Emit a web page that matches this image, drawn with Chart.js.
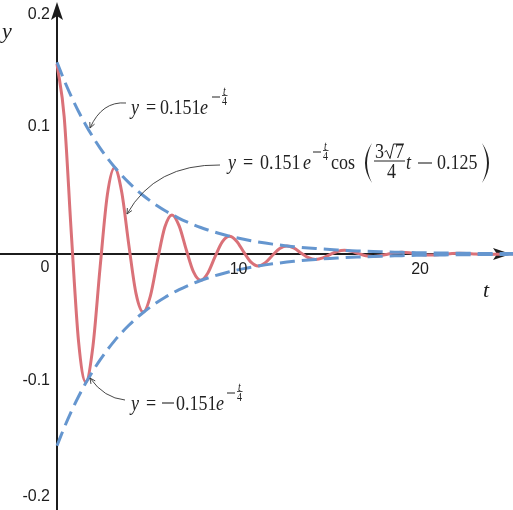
<!DOCTYPE html>
<html>
<head>
<meta charset="utf-8">
<style>
html, body { margin: 0; padding: 0; background: #fff; }
#contenedor { width: 513px; height: 510px; }
</style>
</head>
<body>
<div id="contenedor"><canvas id="canvas-grafico" width="513" height="510"></canvas></div>
<script src="https://cdn.jsdelivr.net/npm/chart.js@4/dist/chart.umd.min.js"></script>
<script>
// Muestras en t (cada 1/8 de periodo)
const tiempos = [
    0, 0.396, 0.792, 1.187, 1.583, 1.979, 2.375, 2.771,
    3.166, 3.562, 3.958, 4.354, 4.750, 5.146, 5.541, 5.937,
    6.333, 6.729, 7.125, 7.520, 7.916, 8.312, 8.708, 9.104,
    9.499, 9.895, 10.291, 10.687, 11.083, 11.478, 11.874, 12.270,
    12.666, 13.062, 13.457, 13.853, 14.249, 14.645, 15.041, 15.437,
    15.832, 16.228, 16.624, 17.020, 17.416, 17.811, 18.207, 18.603,
    18.999, 19.395, 19.791, 20.186, 20.582, 20.978, 21.374, 21.770,
    22.165, 22.561, 22.957, 23.353, 23.749, 24.145, 24.540, 24.936,
    25.332
];

// Curva amortiguada (roja)
const curva = [
    0.14982, 0.10802, 0.01545, -0.06884, -0.10086, -0.07271, -0.01040, 0.04634,
    0.06790, 0.04895, 0.00700, -0.03119, -0.04570, -0.03295, -0.00471, 0.02100,
    0.03077, 0.02218, 0.00317, -0.01413, -0.02071, -0.01493, -0.00213, 0.00951,
    0.01394, 0.01005, 0.00144, -0.00640, -0.00939, -0.00677, -0.00097, 0.00431,
    0.00632, 0.00455, 0.00065, -0.00290, -0.00425, -0.00307, -0.00044, 0.00195,
    0.00286, 0.00206, 0.00030, -0.00132, -0.00193, -0.00139, -0.00020, 0.00089,
    0.00130, 0.00094, 0.00013, -0.00060, -0.00087, -0.00063, -0.00009, 0.00040,
    0.00059, 0.00042, 0.00006, -0.00027, -0.00040, -0.00029, -0.00004, 0.00018,
    0.00027
];

// Envolventes (azul discontinuo)
const envolventeSup = [
    0.15100, 0.13677, 0.12389, 0.11222, 0.10165, 0.09207, 0.08340, 0.07554,
    0.06843, 0.06198, 0.05614, 0.05085, 0.04606, 0.04172, 0.03779, 0.03423,
    0.03101, 0.02809, 0.02544, 0.02304, 0.02087, 0.01891, 0.01712, 0.01551,
    0.01405, 0.01273, 0.01153, 0.01044, 0.00946, 0.00857, 0.00776, 0.00703,
    0.00637, 0.00577, 0.00522, 0.00473, 0.00429, 0.00388, 0.00352, 0.00319,
    0.00289, 0.00261, 0.00237, 0.00214, 0.00194, 0.00176, 0.00159, 0.00144,
    0.00131, 0.00118, 0.00107, 0.00097, 0.00088, 0.00080, 0.00072, 0.00065,
    0.00059, 0.00054, 0.00049, 0.00044, 0.00040, 0.00036, 0.00033, 0.00030,
    0.00027
];
const envolventeInf = [
    -0.15100, -0.13677, -0.12389, -0.11222, -0.10165, -0.09207, -0.08340, -0.07554,
    -0.06843, -0.06198, -0.05614, -0.05085, -0.04606, -0.04172, -0.03779, -0.03423,
    -0.03101, -0.02809, -0.02544, -0.02304, -0.02087, -0.01891, -0.01712, -0.01551,
    -0.01405, -0.01273, -0.01153, -0.01044, -0.00946, -0.00857, -0.00776, -0.00703,
    -0.00637, -0.00577, -0.00522, -0.00473, -0.00429, -0.00388, -0.00352, -0.00319,
    -0.00289, -0.00261, -0.00237, -0.00214, -0.00194, -0.00176, -0.00159, -0.00144,
    -0.00131, -0.00118, -0.00107, -0.00097, -0.00088, -0.00080, -0.00072, -0.00065,
    -0.00059, -0.00054, -0.00049, -0.00044, -0.00040, -0.00036, -0.00033, -0.00030,
    -0.00027
];

// Ticks
const ticksY = [0.2, 0.1, -0.1, -0.2];
const etiquetasY = ["0.2", "0.1", "-0.1", "-0.2"];
const ticksX = [10, 20];
const etiquetasX = ["10", "20"];

const ROJO = "#da7178";
const AZUL = "#6596cf";
const NEGRO = "#1c1c1c";
const SERIF = "'Liberation Serif', 'Times New Roman', 'DejaVu Serif', serif";
const SANS = "'Liberation Sans', Arial, 'DejaVu Sans', sans-serif";

const puntos = arr => tiempos.map((t, i) => ({ x: t, y: arr[i] }));

// ---- utilidades de dibujo ----
function pieza(ctx, s, x, y, tam, cursiva, centro) {
    ctx.save();
    ctx.translate(x, y);
    ctx.scale(1, 1.2);
    ctx.font = (cursiva ? "italic " : "") + tam + "px " + SERIF;
    ctx.textAlign = centro ? "center" : "left";
    ctx.textBaseline = "alphabetic";
    ctx.fillText(s, 0, 0);
    ctx.restore();
}

function raya(ctx, x1, y1, x2, y2, w) {
    ctx.beginPath();
    ctx.lineWidth = w;
    ctx.moveTo(x1, y1);
    ctx.lineTo(x2, y2);
    ctx.stroke();
}

// exponente  -t/4
function exponente(ctx, xm, yb) {
    raya(ctx, xm, yb - 17, xm + 8, yb - 17, 1);
    pieza(ctx, "t", xm + 12.5, yb - 19, 10, true, true);
    raya(ctx, xm + 10, yb - 18.5, xm + 15.5, yb - 18.5, 0.8);
    pieza(ctx, "4", xm + 12.5, yb - 9.5, 10, false, true);
}

function flecha(ctx, x0, y0, cx, cy, x1, y1) {
    ctx.save();
    ctx.strokeStyle = "#333";
    ctx.lineWidth = 0.9;
    ctx.beginPath();
    ctx.moveTo(x0, y0);
    ctx.quadraticCurveTo(cx, cy, x1, y1);
    ctx.stroke();
    const ang = Math.atan2(y1 - cy, x1 - cx);
    const L = 6;
    ctx.beginPath();
    ctx.moveTo(x1 - L * Math.cos(ang - 0.45), y1 - L * Math.sin(ang - 0.45));
    ctx.lineTo(x1, y1);
    ctx.lineTo(x1 - L * Math.cos(ang + 0.45), y1 - L * Math.sin(ang + 0.45));
    ctx.stroke();
    ctx.restore();
}

function parentesis(ctx, x, yTop, yBot, abre) {
    const ym = (yTop + yBot) / 2;
    const d = abre ? -1 : 1;
    ctx.beginPath();
    ctx.moveTo(x, yTop);
    ctx.quadraticCurveTo(x + d * 14, ym, x, yBot);
    ctx.quadraticCurveTo(x + d * 10, ym, x, yTop);
    ctx.fill();
}

// ---- plugin: ejes, etiquetas y fórmulas ----
const ejes = {
    id: "ejes",
    beforeDatasetsDraw(chart) {
        const ctx = chart.ctx;
        const sx = chart.scales.x, sy = chart.scales.y;
        const x0 = sx.getPixelForValue(0);
        const y0 = sy.getPixelForValue(0);
        ctx.save();
        ctx.strokeStyle = NEGRO;
        ctx.fillStyle = NEGRO;
        // eje x
        raya(ctx, 0, y0, chart.width - 12, y0, 2);
        const xt = chart.width - 2;
        ctx.beginPath();
        ctx.moveTo(xt, y0);
        ctx.lineTo(xt - 18, y0 - 6);
        ctx.lineTo(xt - 14, y0);
        ctx.lineTo(xt - 18, y0 + 6);
        ctx.closePath();
        ctx.fill();
        // eje y
        raya(ctx, x0, chart.height, x0, 12, 2);
        ctx.beginPath();
        ctx.moveTo(x0, 2);
        ctx.lineTo(x0 - 6, 20);
        ctx.lineTo(x0, 16);
        ctx.lineTo(x0 + 6, 20);
        ctx.closePath();
        ctx.fill();
        ctx.restore();
    },
    afterDatasetsDraw(chart) {
        const ctx = chart.ctx;
        const sx = chart.scales.x, sy = chart.scales.y;
        const x0 = sx.getPixelForValue(0);
        const y0 = sy.getPixelForValue(0);
        ctx.save();
        ctx.fillStyle = NEGRO;
        ctx.font = "16px " + SANS;
        ctx.textBaseline = "middle";
        ctx.textAlign = "right";
        ticksY.forEach((v, i) => {
            let py = sy.getPixelForValue(v);
            py = Math.min(Math.max(py, 15), chart.height - 13);
            ctx.fillText(etiquetasY[i], x0 - 7, py);
        });
        ctx.textAlign = "center";
        ticksX.forEach((v, i) => {
            ctx.fillText(etiquetasX[i], sx.getPixelForValue(v), y0 + 16);
        });
        ctx.fillText("0", x0 - 12, y0 + 14);

        // nombres de ejes
        ctx.textBaseline = "alphabetic";
        ctx.textAlign = "left";
        ctx.font = "italic 22px " + SERIF;
        ctx.fillText("y", 2, 38);
        ctx.fillText("t", 483, 297);

        ctx.strokeStyle = "#222";
        ctx.fillStyle = "#222";

        // y = 0.151 e^{-t/4}
        pieza(ctx, "y", 131, 114, 18, true);
        pieza(ctx, "=", 146, 114, 18, false);
        pieza(ctx, "0.151", 160, 114, 18, false);
        pieza(ctx, "e", 200, 114, 18, true);
        exponente(ctx, 212, 114);
        flecha(ctx, 126, 103, 102, 101, 90, 128);

        // y = 0.151 e^{-t/4} cos(3√7/4 t - 0.125)
        pieza(ctx, "y", 228, 169, 18, true);
        pieza(ctx, "=", 243, 169, 18, false);
        pieza(ctx, "0.151", 260, 169, 18, false);
        pieza(ctx, "e", 303, 169, 18, true);
        exponente(ctx, 313, 169);
        pieza(ctx, "cos", 331, 169, 18, false);
        parentesis(ctx, 372, 143, 183, true);
        pieza(ctx, "3", 375, 158, 18, false);
        ctx.beginPath();
        ctx.lineWidth = 1;
        ctx.moveTo(384.5, 152);
        ctx.lineTo(386.5, 150.5);
        ctx.lineTo(390, 158.5);
        ctx.lineTo(393.5, 144);
        ctx.lineTo(404, 144);
        ctx.stroke();
        pieza(ctx, "7", 395, 158, 18, false);
        raya(ctx, 374, 161, 405, 161, 1);
        pieza(ctx, "4", 387, 178, 18, false);
        pieza(ctx, "t", 406, 169, 18, true);
        raya(ctx, 418, 163, 432, 163, 1.1);
        pieza(ctx, "0.125", 437, 169, 18, false);
        parentesis(ctx, 482, 143, 183, false);
        flecha(ctx, 220, 165, 155, 164, 127, 214);

        // y = -0.151 e^{-t/4}
        pieza(ctx, "y", 131, 410, 18, true);
        pieza(ctx, "=", 146, 410, 18, false);
        raya(ctx, 162, 403, 174, 403, 1.1);
        pieza(ctx, "0.151", 176, 410, 18, false);
        pieza(ctx, "e", 216, 410, 18, true);
        exponente(ctx, 227, 410);
        flecha(ctx, 125, 400, 104, 398, 90, 378);

        ctx.restore();
    }
};

function crearGrafico() {
    new Chart(document.getElementById("canvas-grafico").getContext("2d"), {
        type: "line",
        data: {
            datasets: [
                {
                    data: puntos(envolventeSup),
                    borderColor: AZUL,
                    borderWidth: 3,
                    borderDash: [15, 7],
                    pointRadius: 0,
                    fill: false,
                    cubicInterpolationMode: "monotone"
                },
                {
                    data: puntos(envolventeInf),
                    borderColor: AZUL,
                    borderWidth: 3,
                    borderDash: [15, 7],
                    pointRadius: 0,
                    fill: false,
                    cubicInterpolationMode: "monotone"
                },
                {
                    data: puntos(curva),
                    borderColor: ROJO,
                    borderWidth: 3,
                    pointRadius: 0,
                    fill: false,
                    cubicInterpolationMode: "monotone"
                }
            ]
        },
        options: {
            responsive: false,
            animation: false,
            devicePixelRatio: 1,
            events: [],
            layout: { padding: 0 },
            plugins: {
                legend: { display: false },
                tooltip: { enabled: false }
            },
            scales: {
                x: { type: "linear", min: -3.14, max: 25.12, display: false },
                y: { type: "linear", min: -0.2016, max: 0.2, display: false }
            }
        },
        plugins: [ejes]
    });
}

// esperar a las fuentes del sistema antes de dibujar
Promise.all([
    document.fonts.load("18px 'Liberation Serif'"),
    document.fonts.load("italic 18px 'Liberation Serif'"),
    document.fonts.load("16px 'Liberation Sans'")
]).then(crearGrafico, crearGrafico);
</script>
</body>
</html>
